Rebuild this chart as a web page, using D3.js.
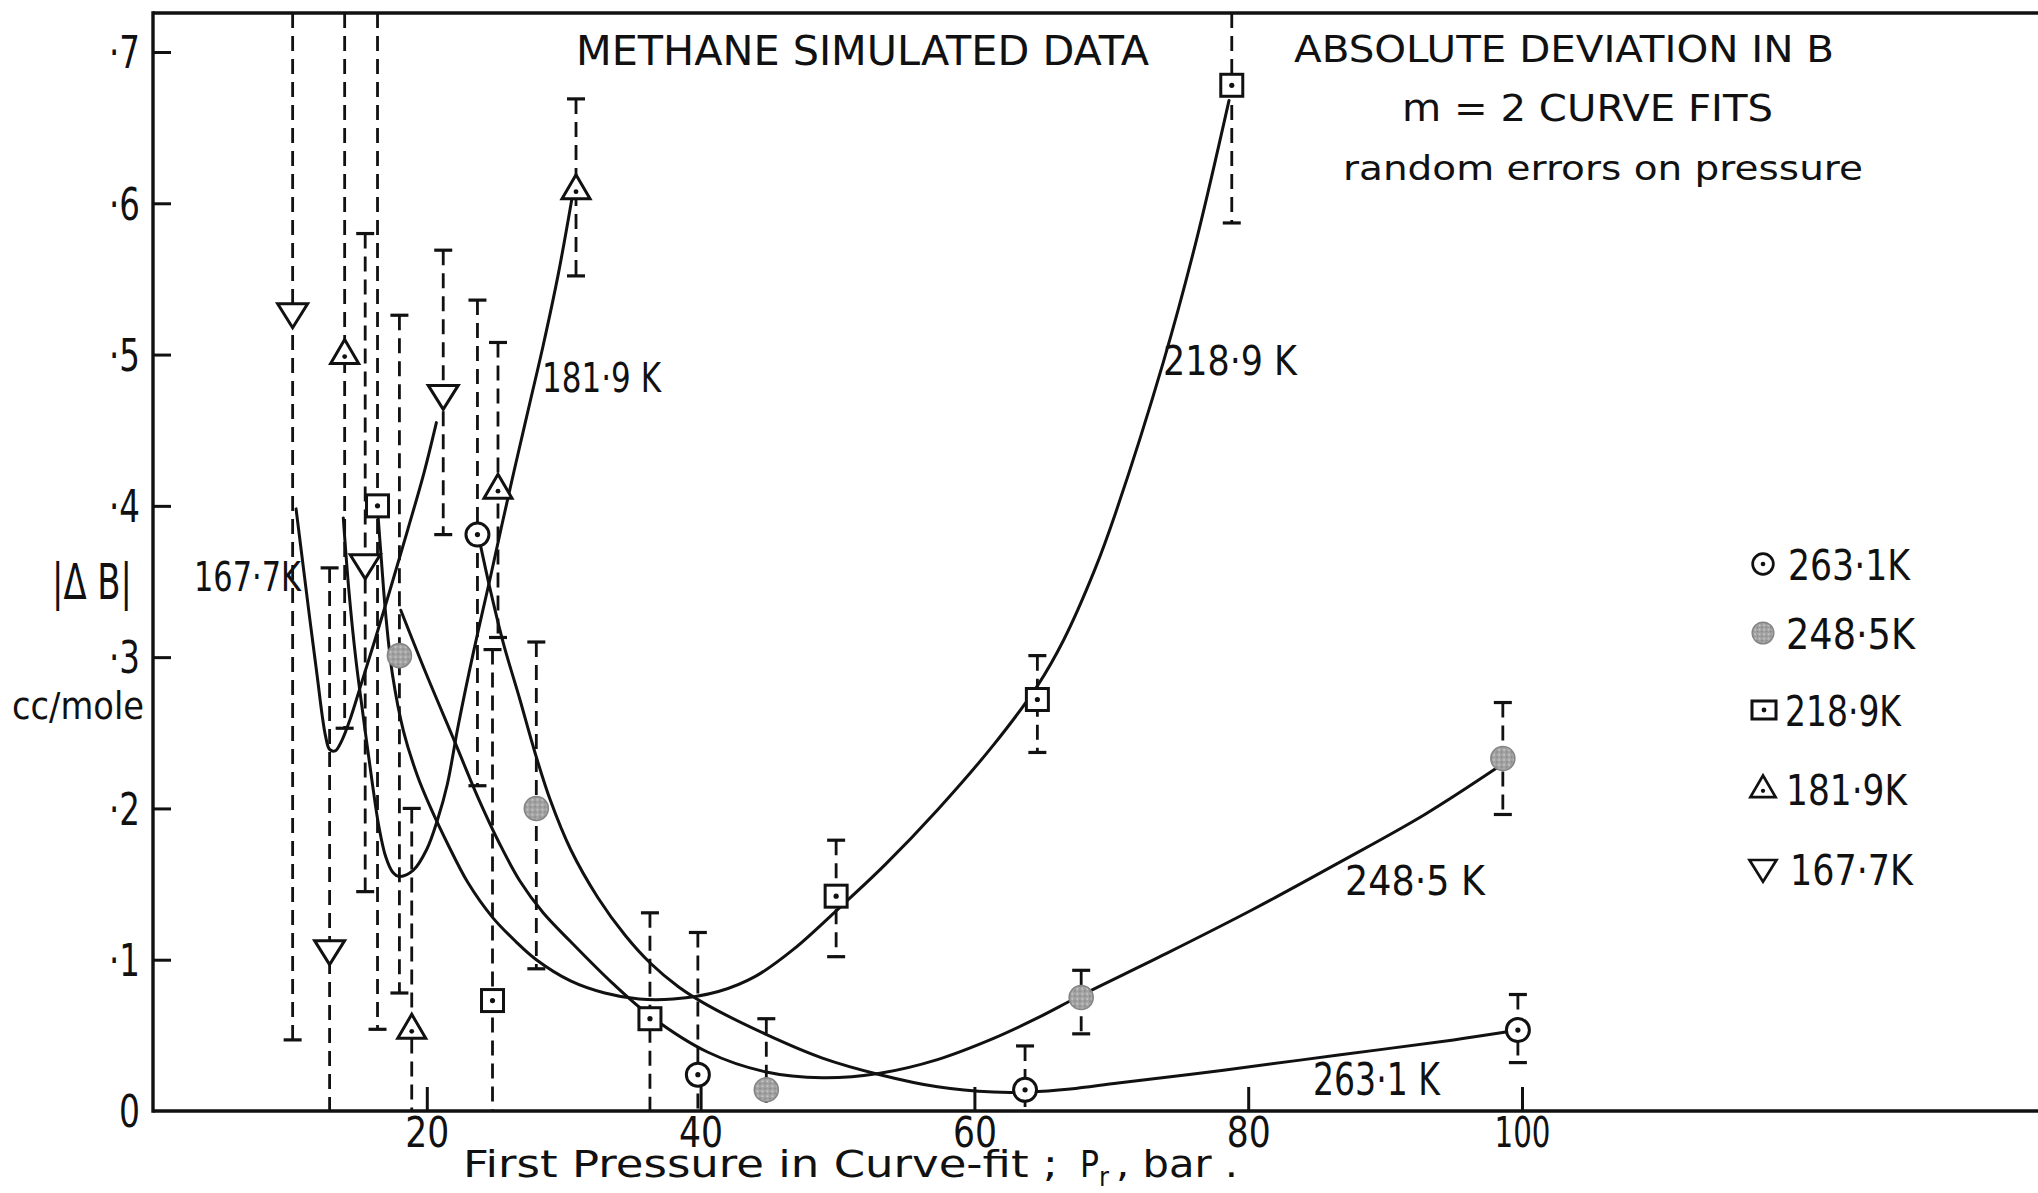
<!DOCTYPE html>
<html>
<head>
<meta charset="utf-8">
<script src="https://cdn.jsdelivr.net/npm/d3@7"></script>
<style>
  html, body { margin: 0; padding: 0; background: #fff; }
  svg { display: block; }
  text { font-family: "DejaVu Sans", "Liberation Sans", sans-serif; fill: #111; }
</style>
</head>
<body>
<script>
// ---- Tick values ----
const xTicks = [20, 40, 60, 80, 100];
const yTicks = [0, 0.1, 0.2, 0.3, 0.4, 0.5, 0.6, 0.7];

// ---- 263.1 K (open circle with dot) ----
const pressure263 = [23.7, 39.8, 63.7, 99.7];
const dev263      = [0.381, 0.024, 0.014, 0.0535];
const errLow263   = [0.215, 0, 0, 0.032];
const errHigh263  = [0.536, 0.118, 0.043, 0.077];

// ---- 248.5 K (stippled disc) ----
const pressure248 = [18.0, 28.0, 44.8, 67.8, 98.6];
const dev248      = [0.301, 0.200, 0.014, 0.075, 0.233];
const errLow248   = [0.078, 0.094, 0, 0.051, 0.196];
const errHigh248  = [0.526, 0.310, 0.061, 0.093, 0.270];

// ---- 218.9 K (square with dot) ----  null = bar runs past the frame
const pressure218 = [16.4, 24.8, 36.3, 49.9, 64.6, 78.8];
const dev218      = [0.400, 0.073, 0.061, 0.142, 0.272, 0.678];
const errLow218   = [0.054, 0, 0, 0.102, 0.237, 0.587];
const errHigh218  = [null, 0.305, 0.131, 0.179, 0.301, null];

// ---- 181.9 K (upward triangle) ----
const pressure181 = [14.0, 18.9, 25.2, 30.9];
const dev181      = [0.500, 0.054, 0.411, 0.609];
const errLow181   = [0.253, 0, 0.313, 0.552];
const errHigh181  = [null, 0.200, 0.508, 0.669];

// ---- 167.7 K (downward triangle) ----
const pressure167 = [10.2, 12.9, 15.5, 21.2];
const dev167      = [0.527, 0.106, 0.361, 0.473];
const errLow167   = [0.047, 0, 0.145, 0.381];
const errHigh167  = [null, 0.359, 0.580, 0.569];

// ---- m = 2 fitted curves: [pressure, |ΔB|] ----
const fit167 = [[10.45,0.398],[11.0,0.358],[11.5,0.322],[12.0,0.287],[12.35,0.262],[12.6,0.248],[12.9,0.239],[13.3,0.238],[13.8,0.245],[14.4,0.259],[15.2,0.282],[16.2,0.311],[17.4,0.347],[18.6,0.384],[19.8,0.422],[20.7,0.455]];
const fit181 = [[13.9,0.392],[14.3,0.345],[14.8,0.300],[15.4,0.258],[16.0,0.218],[16.5,0.188],[17.0,0.168],[17.5,0.158],[18.0,0.155],[19.0,0.159],[20.0,0.173],[20.8,0.193],[21.5,0.216],[22.3,0.255],[23.4,0.303],[24.6,0.351],[25.5,0.388],[26.5,0.428],[27.5,0.467],[28.5,0.506],[29.6,0.553],[30.6,0.603]];
const fit218 = [[16.45,0.392],[16.7,0.362],[17.0,0.328],[17.5,0.288],[18.3,0.251],[19.3,0.222],[20.3,0.200],[21.5,0.177],[23.0,0.151],[24.8,0.128],[26.5,0.112],[28.0,0.100],[30.5,0.086],[33.0,0.078],[35.5,0.074],[38.0,0.074],[41.3,0.079],[44.0,0.089],[46.8,0.107],[50.1,0.134],[53.5,0.163],[57.3,0.199],[61.4,0.242],[64.6,0.281],[66.5,0.311],[68.8,0.358],[70.3,0.395],[73.8,0.495],[76.2,0.575],[78.6,0.668]];
const fit248 = [[18.1,0.331],[20.0,0.288],[22.0,0.245],[23.7,0.208],[25.3,0.177],[26.8,0.152],[28.5,0.131],[30.5,0.112],[33.5,0.085],[36.3,0.063],[40.5,0.039],[44.7,0.026],[48.9,0.022],[53.1,0.025],[57.3,0.034],[61.4,0.048],[64.5,0.061],[67.7,0.076],[74.0,0.104],[80.3,0.133],[86.6,0.164],[92.9,0.196],[98.2,0.227]];
const fit263 = [[23.85,0.377],[24.6,0.346],[25.6,0.309],[26.8,0.272],[27.9,0.237],[29.0,0.206],[30.5,0.173],[32.5,0.141],[34.5,0.116],[36.3,0.098],[38.4,0.082],[40.5,0.070],[44.7,0.051],[48.9,0.035],[53.1,0.024],[57.3,0.016],[61.4,0.0125],[64.0,0.0125],[67.0,0.0145],[70.5,0.0185],[78.2,0.027],[86.6,0.037],[95.0,0.047],[99.4,0.053]];

// ---- Curve labels and legend ----
const curveLabels = ["167·7K", "181·9 K", "218·9 K", "248·5 K", "263·1 K"];
const legendLabels = ["263·1K", "248·5K", "218·9K", "181·9K", "167·7K"];

// ================= drawing =================
const W = 2038, H = 1193;
const frameTop = 13;

const x = d3.scaleLinear().domain([0, 100]).range([153, 1522]);
const y = d3.scaleLinear().domain([0, 0.7]).range([1111, 52]);

const svg = d3.select("body").append("svg")
  .attr("width", W).attr("height", H)
  .attr("viewBox", `0 0 ${W} ${H}`);

svg.append("rect").attr("width", W).attr("height", H).attr("fill", "#fff");

const defs = svg.append("defs");
const pat = defs.append("pattern").attr("id", "stipple")
  .attr("width", 5).attr("height", 5).attr("patternUnits", "userSpaceOnUse");
pat.append("rect").attr("width", 5).attr("height", 5).attr("fill", "#a2a2a2");
pat.append("circle").attr("cx", 1.2).attr("cy", 1.3).attr("r", 0.9).attr("fill", "#d6d6d6");
pat.append("circle").attr("cx", 3.8).attr("cy", 3.6).attr("r", 0.8).attr("fill", "#7a7a7a");

function label(str, x0, baseline, size, width, anchor) {
  const t = svg.append("text")
    .attr("x", x0).attr("y", baseline)
    .attr("font-size", size)
    .text(str);
  if (anchor) t.attr("text-anchor", anchor);
  if (width) t.attr("textLength", width).attr("lengthAdjust", "spacingAndGlyphs");
  return t;
}

// ---- axes ----
const xAxis = d3.axisBottom(x).tickValues(xTicks)
  .tickSizeInner(-24).tickSizeOuter(0).tickPadding(6)
  .tickFormat(d => String(d));
const gx = svg.append("g").attr("transform", `translate(0,${y(0)})`).call(xAxis);
gx.select(".domain").remove();
gx.selectAll(".tick line").attr("stroke", "#111").attr("stroke-width", 3);
gx.selectAll(".tick text")
  .attr("font-size", 42).attr("fill", "#111")
  .attr("font-family", "DejaVu Sans")
  .attr("textLength", d => d === 100 ? 56 : 44)
  .attr("lengthAdjust", "spacingAndGlyphs");

const yAxis = d3.axisLeft(y).tickValues(yTicks)
  .tickSizeInner(-18).tickSizeOuter(0).tickPadding(13)
  .tickFormat(d => d === 0 ? "0" : "\u00B7" + Math.round(d * 10));
const gy = svg.append("g").attr("transform", `translate(${x(0)},0)`).call(yAxis);
gy.select(".domain").remove();
gy.selectAll(".tick line").attr("stroke", "#111").attr("stroke-width", 3)
  .attr("display", d => d === 0 ? "none" : null);
gy.selectAll(".tick text")
  .attr("font-size", 44).attr("fill", "#111")
  .attr("font-family", "DejaVu Sans")
  .attr("dy", "0.36em")
  .attr("textLength", d => d === 0 ? 21 : 31)
  .attr("lengthAdjust", "spacingAndGlyphs");

// frame lines: left axis, top border, bottom axis (open on the right)
const frame = svg.append("g").attr("stroke", "#111").attr("stroke-width", 3.4).attr("fill", "none");
frame.append("line").attr("x1", x(0)).attr("x2", x(0)).attr("y1", frameTop - 1.7).attr("y2", y(0) + 1.7);
frame.append("line").attr("x1", x(0)).attr("x2", W).attr("y1", frameTop).attr("y2", frameTop);
frame.append("line").attr("x1", x(0)).attr("x2", W).attr("y1", y(0)).attr("y2", y(0));

// ---- error bars ----
const series = [
  { p: pressure263, v: dev263, lo: errLow263, hi: errHigh263, fit: fit263, mark: "circle" },
  { p: pressure248, v: dev248, lo: errLow248, hi: errHigh248, fit: fit248, mark: "disc" },
  { p: pressure218, v: dev218, lo: errLow218, hi: errHigh218, fit: fit218, mark: "square" },
  { p: pressure181, v: dev181, lo: errLow181, hi: errHigh181, fit: fit181, mark: "up" },
  { p: pressure167, v: dev167, lo: errLow167, hi: errHigh167, fit: fit167, mark: "down" }
];

const bars = svg.append("g").attr("stroke", "#111").attr("fill", "none");
series.forEach(s => {
  s.p.forEach((p, i) => {
    const cx = x(p);
    const yLo = s.lo[i] === 0 ? y(0) : y(s.lo[i]);
    const yHi = s.hi[i] === null ? frameTop : y(s.hi[i]);
    bars.append("line")
      .attr("x1", cx).attr("x2", cx).attr("y1", yHi).attr("y2", yLo)
      .attr("stroke-width", 2.8).attr("stroke-dasharray", "15,8");
    if (s.lo[i] > 0) {
      bars.append("line").attr("x1", cx - 9).attr("x2", cx + 9)
        .attr("y1", yLo).attr("y2", yLo).attr("stroke-width", 3.2);
    }
    if (s.hi[i] !== null) {
      bars.append("line").attr("x1", cx - 9).attr("x2", cx + 9)
        .attr("y1", yHi).attr("y2", yHi).attr("stroke-width", 3.2);
    }
  });
});

// ---- fitted curves ----
const line = d3.line()
  .x(d => x(d[0])).y(d => y(d[1]))
  .curve(d3.curveCatmullRom.alpha(0.5));
const curves = svg.append("g").attr("fill", "none").attr("stroke", "#111")
  .attr("stroke-width", 3).attr("stroke-linecap", "round");
series.forEach(s => curves.append("path").attr("d", line(s.fit)));

// ---- markers ----
function drawMarker(g, kind, cx, cy, scale) {
  const k = scale || 1;
  const m = g.append("g").attr("transform", `translate(${cx},${cy}) scale(${k})`);
  if (kind === "circle") {
    m.append("circle").attr("r", 11.5).attr("fill", "#fff").attr("stroke", "#111").attr("stroke-width", 3);
    m.append("circle").attr("r", 2.6).attr("fill", "#111");
  } else if (kind === "disc") {
    m.append("circle").attr("r", 12).attr("fill", "url(#stipple)").attr("stroke", "#858585").attr("stroke-width", 1.6);
  } else if (kind === "square") {
    m.append("rect").attr("x", -11).attr("y", -11).attr("width", 22).attr("height", 22)
      .attr("fill", "#fff").attr("stroke", "#111").attr("stroke-width", 3);
    m.append("circle").attr("r", 2.6).attr("fill", "#111");
  } else if (kind === "up") {
    m.append("path").attr("d", "M0,-15 L14,9 L-14,9 Z")
      .attr("fill", "#fff").attr("stroke", "#111").attr("stroke-width", 3).attr("stroke-linejoin", "miter");
    m.append("circle").attr("cy", 2).attr("r", 2.4).attr("fill", "#111");
  } else if (kind === "down") {
    m.append("path").attr("d", "M-15,-10 L15,-10 L0,14 Z")
      .attr("fill", "#fff").attr("stroke", "#111").attr("stroke-width", 3).attr("stroke-linejoin", "miter");
  }
}
const marks = svg.append("g");
series.forEach(s => {
  s.p.forEach((p, i) => drawMarker(marks, s.mark, x(p), y(s.v[i])));
});

// ---- titles ----
label("METHANE  SIMULATED  DATA", 576, 65, 40, 573);
label("ABSOLUTE  DEVIATION IN  B", 1294, 62, 38, 540);
label("m = 2  CURVE  FITS", 1402, 121, 37, 371);
label("random errors  on  pressure", 1343, 180, 34, 520);

// ---- curve labels ----
label(curveLabels[0], 194, 591, 40, 107);
label(curveLabels[1], 542, 392, 40, 119);
label(curveLabels[2], 1163, 375, 40, 134);
label(curveLabels[3], 1345, 895, 40, 140);
label(curveLabels[4], 1313, 1095, 44, 127);

// ---- legend ----
const legendMarks = ["circle", "disc", "square", "up", "down"];
const legendY = [564, 633, 710, 789, 869];
const legendTextX = [1788, 1786, 1785, 1786, 1790];
const legendTextW = [122, 129, 116, 121, 123];
legendLabels.forEach((t, i) => {
  if (legendMarks[i] === "square") {
    const g = svg.append("g").attr("transform", `translate(1764,${legendY[i]})`);
    g.append("rect").attr("x", -12).attr("y", -9).attr("width", 24).attr("height", 18)
      .attr("fill", "#fff").attr("stroke", "#111").attr("stroke-width", 3);
    g.append("circle").attr("r", 2.4).attr("fill", "#111");
  } else {
    drawMarker(svg, legendMarks[i], 1763, legendY[i], 0.9);
  }
  label(t, legendTextX[i], legendY[i] + 16, 43, legendTextW[i]);
});

// ---- axis titles ----
label("|\u0394 B|", 52, 599, 50, 80);
label("cc/mole", 12, 719, 37, 132);
label("First  Pressure  in  Curve-fit  ;", 463, 1177, 38, 595);
label("P", 1080, 1177, 38, 19);
label("r", 1099, 1186, 26, 10);
label(", bar .", 1116, 1177, 38, 122);
</script>
</body>
</html>
